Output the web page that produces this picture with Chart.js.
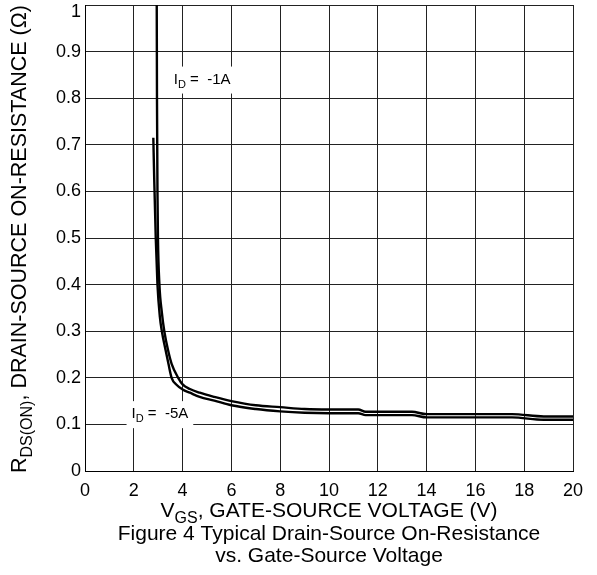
<!DOCTYPE html>
<html>
<head>
<meta charset="utf-8">
<script src="https://cdn.jsdelivr.net/npm/chart.js@4"></script>
<style>
  body { margin: 0; background: #fff; }
</style>
</head>
<body>
<canvas id="chart" width="597" height="575"></canvas>
<script>
// I_D = -1A (upper curve on the flat part)
const vgs1A = [2.94, 2.95, 2.97, 2.99, 3.05, 3.15, 3.25, 3.4, 3.55, 3.82, 4, 4.3, 4.7, 5.3, 6, 7, 8, 9, 10, 11.2, 11.5, 13.4, 14, 17.5, 18.8, 20];
const rds1A = [1.0, 0.8, 0.6, 0.5, 0.4, 0.34, 0.3, 0.26, 0.23, 0.2, 0.186, 0.176, 0.168, 0.159, 0.15, 0.141, 0.137, 0.133, 0.132, 0.132, 0.127, 0.127, 0.122, 0.122, 0.117, 0.117];

// I_D = -5A (lower curve)
const vgs5A = [2.8, 2.84, 2.9, 2.97, 3.07, 3.15, 3.3, 3.42, 3.55, 3.75, 4, 4.3, 4.7, 5.3, 6, 7, 8, 9, 10, 11.2, 11.5, 13.4, 14, 17.5, 18.8, 20];
const rds5A = [0.715, 0.62, 0.5, 0.4, 0.33, 0.3, 0.26, 0.23, 0.2, 0.185, 0.175, 0.168, 0.159, 0.151, 0.141, 0.133, 0.128, 0.125, 0.124, 0.124, 0.12, 0.12, 0.115, 0.115, 0.11, 0.11];

const xTicks = [0, 2, 4, 6, 8, 10, 12, 14, 16, 18, 20];
const yTicks = [0, 0.1, 0.2, 0.3, 0.4, 0.5, 0.6, 0.7, 0.8, 0.9, 1];
const yTickLabels = ['0', '0.1', '0.2', '0.3', '0.4', '0.5', '0.6', '0.7', '0.8', '0.9', '1'];

const FONT = '"Liberation Sans", Arial, sans-serif';

function toPoints(xs, ys) {
  return xs.map((x, i) => ({ x: x, y: ys[i] }));
}

// measures text made of normal and subscript parts
function measureRich(ctx, parts, size) {
  const subSize = Math.round(size * 0.75);
  let total = 0;
  parts.forEach(p => {
    ctx.font = (p.sub ? subSize : size) + 'px ' + FONT;
    p.w = ctx.measureText(p.t).width;
    total += p.w;
  });
  return total;
}

// draws it centred on x
function drawRich(ctx, parts, x, y, size) {
  const subSize = Math.round(size * 0.75);
  const total = measureRich(ctx, parts, size);
  let cx = x - total / 2;
  ctx.textAlign = 'left';
  ctx.textBaseline = 'middle';
  parts.forEach(p => {
    ctx.font = (p.sub ? subSize : size) + 'px ' + FONT;
    ctx.fillText(p.t, cx, p.sub ? y + size * 0.35 : y);
    cx += p.w;
  });
}

// white box behind the label hides the grid
function curveLabel(ctx, chart, vLabel, rLabel, text) {
  const parts = [{ t: 'I' }, { t: 'D', sub: true }, { t: ' =  ' + text }];
  const size = 15;
  const x = chart.scales.x.getPixelForValue(vLabel);
  const y = chart.scales.y.getPixelForValue(rLabel);
  const w = measureRich(ctx, parts, size);
  ctx.fillStyle = '#fff';
  ctx.fillRect(x - w / 2 - 5, y - 13, w + 10, 27);
  ctx.fillStyle = '#000';
  drawRich(ctx, parts, x, y, size);
}

const annotations = {
  id: 'annotations',
  beforeDatasetsDraw(chart) {
    const ctx = chart.ctx;
    ctx.save();
    curveLabel(ctx, chart, 4.8, 0.84, '-1A');
    curveLabel(ctx, chart, 3.07, 0.122, '-5A');
    ctx.restore();
  },
  afterDraw(chart) {
    const ctx = chart.ctx;
    const a = chart.chartArea;
    const cx = (a.left + a.right) / 2;
    ctx.save();
    ctx.fillStyle = '#000';
    // top tick label sits just below the top edge so it stays visible
    const last = yTicks.length - 1;
    ctx.font = '18px ' + FONT;
    ctx.textAlign = 'right';
    ctx.textBaseline = 'middle';
    ctx.fillText(yTickLabels[last], a.left - 4, chart.scales.y.getPixelForValue(yTicks[last]) + 7);
    drawRich(ctx, [{ t: 'V' }, { t: 'GS', sub: true }, { t: ', GATE-SOURCE VOLTAGE (V)' }], cx, 511, 21);
    drawRich(ctx, [{ t: 'Figure 4 Typical Drain-Source On-Resistance' }], cx, 534, 21);
    drawRich(ctx, [{ t: 'vs. Gate-Source Voltage' }], cx, 556, 21);
    ctx.translate(20, (a.top + a.bottom) / 2 + 1);
    ctx.rotate(-Math.PI / 2);
    drawRich(ctx, [{ t: 'R' }, { t: 'DS(ON)', sub: true }, { t: ', DRAIN-SOURCE ON-RESISTANCE (\u03A9)' }], 0, 0, 21.5);
    ctx.restore();
  }
};

const ctx = document.getElementById('chart').getContext('2d');
new Chart(ctx, {
  type: 'line',
  data: {
    datasets: [
      {
        label: 'ID = -1A',
        data: toPoints(vgs1A, rds1A),
        borderColor: '#000',
        borderWidth: 2.4,
        pointRadius: 0,
        cubicInterpolationMode: 'monotone'
      },
      {
        label: 'ID = -5A',
        data: toPoints(vgs5A, rds5A),
        borderColor: '#000',
        borderWidth: 2.4,
        pointRadius: 0,
        cubicInterpolationMode: 'monotone'
      }
    ]
  },
  options: {
    responsive: false,
    animation: false,
    devicePixelRatio: 1,
    layout: { padding: { top: 5, right: 24, left: 0, bottom: 0 } },
    plugins: {
      legend: { display: false },
      tooltip: { enabled: false }
    },
    scales: {
      x: {
        type: 'linear',
        min: 0,
        max: 20,
        afterBuildTicks: scale => { scale.ticks = xTicks.map(v => ({ value: v })); },
        afterFit: scale => { scale.height = 104; },
        grid: { color: '#222', lineWidth: 1, drawTicks: false },
        border: { color: '#000', width: 1 },
        ticks: {
          color: '#000',
          padding: 9,
          maxRotation: 0,
          font: { family: FONT, size: 18 }
        }
      },
      y: {
        type: 'linear',
        min: 0,
        max: 1,
        afterBuildTicks: scale => { scale.ticks = yTicks.map(v => ({ value: v })); },
        afterFit: scale => {
          scale.width = 85;
          scale.paddingTop = 0;
          scale.paddingBottom = 0;
        },
        grid: { color: '#222', lineWidth: 1, drawTicks: false },
        border: { color: '#000', width: 1 },
        ticks: {
          color: '#000',
          padding: 4,
          font: { family: FONT, size: 18 },
          // the top label is drawn by the plugin
          callback: (v, i) => (i === yTicks.length - 1 ? '' : yTickLabels[i])
        }
      }
    }
  },
  plugins: [annotations]
});
</script>
</body>
</html>
